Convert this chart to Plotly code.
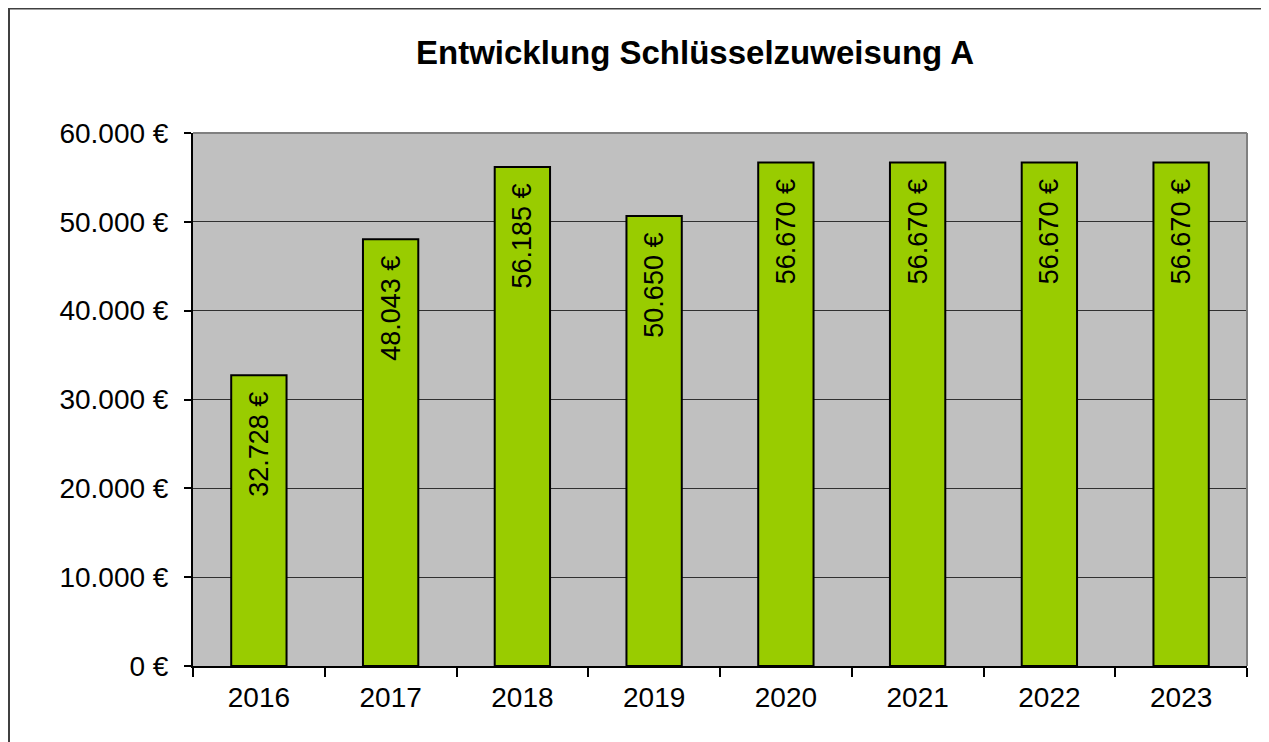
import plotly.graph_objects as go

years = ["2016", "2017", "2018", "2019", "2020", "2021", "2022", "2023"]
values = [32728, 48043, 56185, 50650, 56670, 56670, 56670, 56670]
y_tickvals = [0, 10000, 20000, 30000, 40000, 50000, 60000]
y_ticktext = ["0 €", "10.000 €", "20.000 €", "30.000 €", "40.000 €", "50.000 €", "60.000 €"]
title_text = "Entwicklung Schlüsselzuweisung A"

FONT = "Liberation Sans, Arial, sans-serif"

W, H = 1261, 734
L, R, T, B = 185, 22, 125, 76
PW = W - L - R
PH = H - T - B

fig = go.Figure(
    go.Bar(
        x=years,
        y=values,
        width=0.42,
        marker=dict(color="#99CC00", line=dict(color="#000000", width=2)),
        texttemplate="%{y:,.0f} €\u2002",
        textposition="inside",
        insidetextanchor="end",
        textangle=-90,
        textfont=dict(family=FONT, size=27, color="#000000"),
        cliponaxis=False,
        hoverinfo="skip",
    )
)

fig.update_layout(
    width=W,
    height=H,
    separators=",.",
    paper_bgcolor="#FFFFFF",
    plot_bgcolor="#C0C0C0",
    margin=dict(l=L, r=R, t=T, b=B),
    showlegend=False,
    font=dict(family=FONT, size=28, color="#000000"),
    title=dict(
        text="<b>" + title_text + "</b>",
        x=687 / W,
        xref="container",
        xanchor="center",
        y=1 - 44 / H,
        yref="container",
        yanchor="middle",
        font=dict(family=FONT, size=33, color="#000000"),
    ),
    xaxis=dict(
        type="category",
        tickson="boundaries",
        ticks="outside",
        ticklen=9,
        tickwidth=1.5,
        tickcolor="#000000",
        showline=True,
        linecolor="#000000",
        linewidth=2,
        showgrid=False,
        tickfont=dict(family=FONT, size=28, color="#000000"),
        ticklabelstandoff=5,
    ),
    yaxis=dict(
        range=[0, 60000],
        tickvals=y_tickvals,
        ticktext=y_ticktext,
        ticks="outside",
        ticklen=7,
        tickwidth=1.5,
        tickcolor="#000000",
        showline=True,
        linecolor="#000000",
        linewidth=2,
        showgrid=True,
        gridcolor="#303030",
        gridwidth=1.2,
        zeroline=False,
        tickfont=dict(family=FONT, size=28, color="#000000"),
        ticklabelstandoff=10,
    ),
    shapes=[
        dict(type="line", xref="paper", yref="paper", x0=0, x1=1, y0=1, y1=1,
             line=dict(color="#808080", width=2), layer="above"),
        dict(type="line", xref="paper", yref="paper", x0=1, x1=1, y0=0, y1=1,
             line=dict(color="#808080", width=2), layer="above"),
        dict(type="rect", xref="paper", yref="paper",
             x0=(1 - L) / PW, x1=(W + 40 - L) / PW,
             y0=(T + PH - (H + 40)) / PH, y1=(T + PH - 0.5) / PH,
             line=dict(color="#404040", width=2), fillcolor="rgba(0,0,0,0)", layer="below"),
    ],
)

fig.write_html("out.html")
